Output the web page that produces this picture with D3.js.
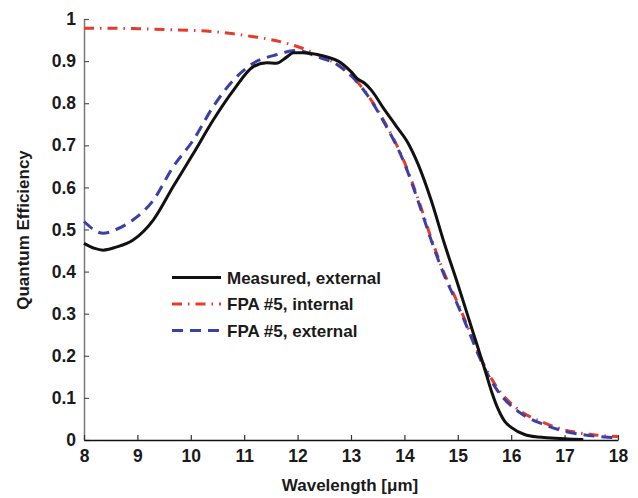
<!DOCTYPE html>
<html>
<head>
<meta charset="utf-8">
<script src="https://cdn.jsdelivr.net/npm/d3@7"></script>
<style>
  body { margin: 0; background: #fff; }
  svg text { font-family: "Liberation Sans", Arial, sans-serif; font-weight: bold; fill: #1a1a1a; }
</style>
</head>
<body>
<svg id="chart" width="638" height="498"></svg>
<script>
// Measured, external
const measWl = [8, 8.2, 8.36, 8.6, 8.92, 9.3, 9.67, 10.05, 10.42, 10.8, 11.17, 11.42, 11.6, 11.8, 11.92, 12.1, 12.36, 12.6, 12.76, 13.0, 13.13, 13.25, 13.38, 13.63, 13.85, 14.07, 14.25, 14.5, 14.75, 15.0, 15.2, 15.38, 15.5, 15.63, 15.75, 15.88, 16.0, 16.25, 16.5, 16.75, 17.0, 17.35];
const measQE = [0.467, 0.455, 0.451, 0.458, 0.475, 0.523, 0.602, 0.681, 0.76, 0.831, 0.887, 0.896, 0.895, 0.91, 0.92, 0.92, 0.916, 0.908, 0.9, 0.875, 0.857, 0.848, 0.831, 0.784, 0.745, 0.705, 0.657, 0.57, 0.466, 0.37, 0.29, 0.218, 0.17, 0.116, 0.075, 0.044, 0.03, 0.013, 0.007, 0.005, 0.003, 0.001];

// FPA #5, internal
const intWl = [8, 8.5, 9, 9.55, 10, 10.42, 10.8, 11.17, 11.5, 11.8, 12.1, 12.36, 12.76, 13.19, 13.63, 14.0, 14.25, 14.5, 14.75, 15.0, 15.2, 15.44, 15.75, 16.13, 16.63, 17.13, 17.5, 18];
const intQE = [0.978, 0.978, 0.977, 0.975, 0.973, 0.97, 0.965, 0.958, 0.951, 0.942, 0.93, 0.916, 0.89, 0.84, 0.755, 0.66, 0.575, 0.48, 0.395, 0.325, 0.265, 0.192, 0.122, 0.073, 0.04, 0.02, 0.013, 0.008];

// FPA #5, external
const extWl = [8, 8.36, 8.6, 8.92, 9.3, 9.67, 10.05, 10.42, 10.8, 11.17, 11.6, 11.98, 12.38, 12.76, 13.19, 13.63, 14.0, 14.25, 14.5, 14.75, 15.0, 15.2, 15.44, 15.75, 16.13, 16.63, 17.13, 17.5, 17.87, 18];
const extQE = [0.519, 0.491, 0.5, 0.523, 0.57, 0.649, 0.713, 0.792, 0.855, 0.895, 0.915, 0.925, 0.91, 0.89, 0.839, 0.752, 0.657, 0.57, 0.475, 0.39, 0.32, 0.26, 0.187, 0.116, 0.068, 0.036, 0.017, 0.01, 0.006, 0.005];

const xTicks = [8, 9, 10, 11, 12, 13, 14, 15, 16, 17, 18];
const yTicks = [0, 0.1, 0.2, 0.3, 0.4, 0.5, 0.6, 0.7, 0.8, 0.9, 1];

const seriesNames = ["Measured, external", "FPA #5, internal", "FPA #5, external"];

const svg = d3.select("#chart");
const margin = { top: 19, right: 20, bottom: 58, left: 84 };
const width = 638 - margin.left - margin.right;
const height = 498 - margin.top - margin.bottom;

const x = d3.scaleLinear().domain([8, 18]).range([margin.left, margin.left + width]);
const y = d3.scaleLinear().domain([0, 1]).range([margin.top + height, margin.top]);

// axes
const yAxis = svg.append("g")
	.attr("transform", `translate(${margin.left},0)`)
	.call(d3.axisLeft(y)
		.tickValues(yTicks)
		.tickSizeInner(-5)
		.tickSizeOuter(0)
		.tickPadding(8)
		.tickFormat(d => (d === 0 || d === 1) ? d3.format("d")(d) : d3.format(".1f")(d)));
yAxis.select(".domain").attr("stroke", "#7a7a7a").attr("stroke-width", 1.5);
yAxis.selectAll(".tick line").attr("stroke", "#555").attr("stroke-width", 1.2);
yAxis.selectAll("text").style("font-size", "17.5px");

const xAxis = svg.append("g")
	.attr("transform", `translate(0,${margin.top + height})`)
	.call(d3.axisBottom(x)
		.tickValues(xTicks)
		.tickSizeInner(-5)
		.tickSizeOuter(0)
		.tickPadding(10)
		.tickFormat(d3.format("d")));
xAxis.select(".domain").attr("stroke", "#111").attr("stroke-width", 1.5);
xAxis.selectAll(".tick line").attr("stroke", "#333").attr("stroke-width", 1.2);
xAxis.selectAll("text").style("font-size", "17.5px");

// axis titles
svg.append("text")
	.attr("x", 350)
	.attr("y", 491)
	.attr("text-anchor", "middle")
	.style("font-size", "17px")
	.text("Wavelength [μm]");

svg.append("text")
	.attr("transform", "translate(29,230) rotate(-90)")
	.attr("text-anchor", "middle")
	.style("font-size", "17px")
	.text("Quantum Efficiency");

// lines
const line = d3.line()
	.x(d => x(d[0]))
	.y(d => y(d[1]))
	.curve(d3.curveMonotoneX);

const styles = [
	{ color: "#111111", dash: null },
	{ color: "#e63a2b", dash: "10,6,1.5,6" },
	{ color: "#3b40a6", dash: "11,7" }
];

const series = [
	d3.zip(measWl, measQE),
	d3.zip(intWl, intQE),
	d3.zip(extWl, extQE)
];

// draw order: internal, external, then measured on top
[1, 2, 0].forEach(i => {
	svg.append("path")
		.datum(series[i])
		.attr("d", line)
		.attr("fill", "none")
		.attr("stroke", styles[i].color)
		.attr("stroke-width", 3)
		.attr("stroke-dasharray", styles[i].dash);
});

// legend
const legend = svg.append("g");
seriesNames.forEach((name, i) => {
	const ly = 277.5 + i * 26.5;
	legend.append("line")
		.attr("x1", 172).attr("x2", 221)
		.attr("y1", ly).attr("y2", ly)
		.attr("stroke", styles[i].color)
		.attr("stroke-width", 3)
		.attr("stroke-dasharray", styles[i].dash);
	legend.append("text")
		.attr("x", 227)
		.attr("y", ly + 6)
		.style("font-size", "17px")
		.text(name);
});
</script>
</body>
</html>
